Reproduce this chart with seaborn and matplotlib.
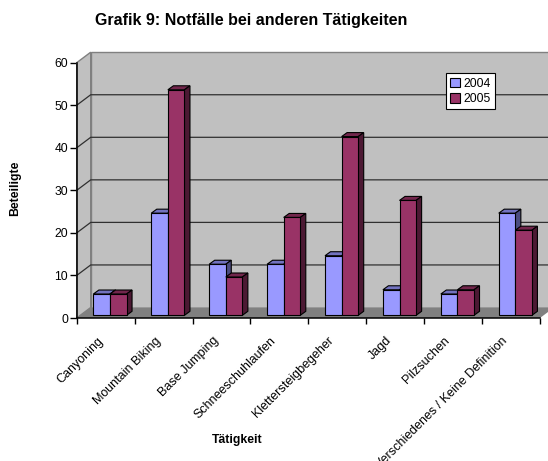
import matplotlib
matplotlib.use('Agg')
import matplotlib.pyplot as plt
import pandas as pd
import seaborn as sns
from matplotlib.patches import Polygon
from matplotlib.transforms import Affine2D, IdentityTransform

# Chart data
categories = ['Canyoning', 'Mountain Biking', 'Base Jumping', 'Schneeschuhlaufen',
              'Klettersteigbegeher', 'Jagd', 'Pilzsuchen', 'Verschiedenes / Keine Definition']
values_2004 = [5, 24, 12, 12, 14, 6, 5, 24]
values_2005 = [5, 53, 9, 23, 42, 27, 6, 20]
y_ticks = [0, 10, 20, 30, 40, 50, 60]

sns.set_style('white')
plt.rcParams['font.family'] = ['Liberation Sans', 'DejaVu Sans']
plt.rcParams['text.color'] = 'black'
plt.rcParams['axes.labelcolor'] = 'black'
plt.rcParams['xtick.labelcolor'] = 'black'
plt.rcParams['ytick.labelcolor'] = 'black'

df = pd.DataFrame({
    'Tätigkeit': categories * 2,
    'Beteiligte': values_2004 + values_2005,
    'Jahr': ['2004'] * 8 + ['2005'] * 8,
})

W, H = 548, 461
fig = plt.figure(figsize=(W / 100, H / 100), dpi=100, facecolor='white')
ax = fig.add_axes([76.7 / W, (H - 318) / H, 463.3 / W, 255.3 / H])
ax.patch.set_alpha(0)

sns.barplot(data=df, x='Tätigkeit', y='Beteiligte', hue='Jahr', order=categories,
            palette=['#9999FF', '#993366'], width=0.573, gap=0, dodge=True,
            edgecolor='black', linewidth=0.8, saturation=1, ax=ax)
ax.set_xlim(-0.5, 7.5)
ax.set_ylim(0, 60)
fig.canvas.draw()

# 3D look: walls and floor (pixel offsets from the front plane)
DX, DY = 14, 10.5
px = IdentityTransform()
to_px = ax.transData.transform


def poly(points, color, edge='none', z=0.5, lw=0.8):
    ax.add_patch(Polygon(points, closed=True, facecolor=color, edgecolor=edge, linewidth=lw,
                         transform=px, clip_on=False, zorder=z))


x0, y0 = to_px((-0.5, 0))
x1, y1 = to_px((7.5, 60))
poly([(x0 + DX, y0 + DY), (x1 + DX, y0 + DY), (x1 + DX, y1 + DY), (x0 + DX, y1 + DY)], '#C0C0C0', '#808080', 0.5, 1.0)
poly([(x0, y0), (x0 + DX, y0 + DY), (x0 + DX, y1 + DY), (x0, y1)], '#C0C0C0', '#808080', 0.6, 1.0)
poly([(x0, y0), (x0 + DX, y0 + DY), (x1 + DX, y0 + DY), (x1, y0)], '#808080', 'none', 0.7)

for t in y_ticks[1:-1]:
    _, yy = to_px((0, t))
    ax.plot([x0, x0 + DX, x1 + DX], [yy, yy + DY, yy + DY], color='#303030', lw=0.9,
            transform=px, clip_on=False, zorder=0.8)

# Bars moved back from the front plane, each with a top and a side face
SHIFT_X, SHIFT_Y = 4.3, 2.7
DEPTH_X, DEPTH_Y = 5.5, 4
shades = {0: ('#7272BF', '#4C4C7F'), 1: ('#72264C', '#4C1933')}
for s, container in enumerate(ax.containers):
    for bar in container:
        (bx0, by0), (bx1, by1) = to_px((bar.get_x(), 0)), to_px((bar.get_x() + bar.get_width(), bar.get_height()))
        bx0 += SHIFT_X
        bx1 += SHIFT_X
        by0 += SHIFT_Y
        by1 += SHIFT_Y
        z = 3 + s
        top = [(bx0, by1), (bx1, by1), (bx1 + DEPTH_X, by1 + DEPTH_Y), (bx0 + DEPTH_X, by1 + DEPTH_Y)]
        side = [(bx1, by0), (bx1 + DEPTH_X, by0 + DEPTH_Y), (bx1 + DEPTH_X, by1 + DEPTH_Y), (bx1, by1)]
        poly(top, shades[s][0], 'black', z)
        poly(side, shades[s][1], 'black', z)
        bar.set_transform(ax.transData + Affine2D().translate(SHIFT_X, SHIFT_Y))
        bar.set_zorder(z + 0.5)
        bar.set_clip_on(False)

# Axes, ticks and labels
sns.despine(ax=ax, top=True, right=True)
for side_name in ['left', 'bottom']:
    ax.spines[side_name].set_color('black')
    ax.spines[side_name].set_linewidth(1.1)
    ax.spines[side_name].set_zorder(6)
ax.set_yticks(y_ticks)
ax.set_xticks([i - 0.5 for i in range(9)], minor=True)
ax.tick_params(axis='x', which='minor', bottom=True, length=4.3, width=1, color='black')
ax.tick_params(axis='x', which='major', bottom=False, pad=8.5)
ax.tick_params(axis='y', left=True, length=4.8, width=1, color='black', labelsize=8.7, pad=1.5)
ax.set_xticks(range(8))
ax.set_xticklabels(categories, rotation=45, ha='right', va='top', rotation_mode='anchor', fontsize=9.0)
for i, label in enumerate(ax.get_xticklabels()):
    label.set_transform(label.get_transform() + Affine2D().translate(-8.5 - 0.2 * i, 0))

ax.set_xlabel('Tätigkeit', fontsize=8.8, fontweight='bold', color='black', va='center')
ax.xaxis.set_label_coords(237.5 / W, (H - 440) / H, transform=fig.transFigure)
ax.set_ylabel('Beteiligte', fontsize=8.8, fontweight='bold', color='black', va='center')
ax.yaxis.set_label_coords(15 / W, (H - 188) / H, transform=fig.transFigure)
fig.text(251.5 / W, (H - 21) / H, 'Grafik 9: Notfälle bei anderen Tätigkeiten', fontsize=11.5,
         fontweight='bold', ha='center', va='center', color='black')

handles, labels = ax.get_legend_handles_labels()
leg = ax.legend(handles, labels, loc='upper left', bbox_to_anchor=(445.7 / W, (H - 73.3) / H),
                bbox_transform=fig.transFigure, frameon=True, fancybox=False, edgecolor='black',
                framealpha=1, fontsize=8.7, handlelength=0.8, handleheight=0.8, handletextpad=0.35,
                labelspacing=0.3, borderpad=0.35, borderaxespad=0, labelcolor='black')
leg.get_frame().set_linewidth(0.8)
leg.set_zorder(10)

fig.savefig('out.png', dpi=100)
